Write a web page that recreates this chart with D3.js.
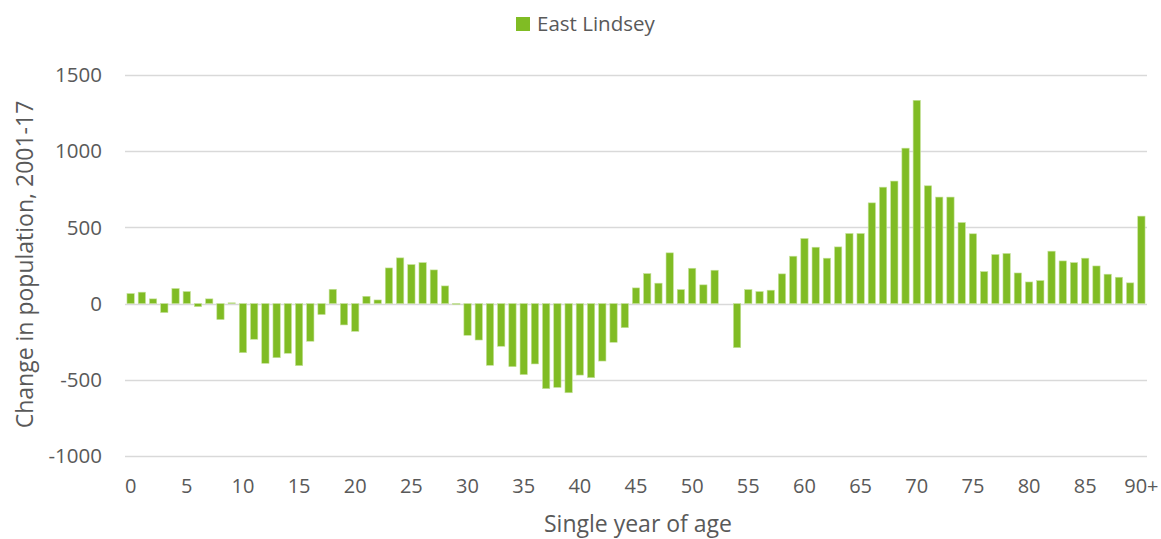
<!DOCTYPE html>
<html>
<head>
<meta charset="utf-8">
<script src="https://cdn.jsdelivr.net/npm/d3@7"></script>
<style>
  body { margin: 0; background: #fff; }
  text { font-family: "Open Sans", sans-serif; fill: #595959; }
</style>
</head>
<body>
<svg width="1161" height="539"></svg>
<script>
// ages 0..89 then 90+
var ages = d3.range(0, 90).map(String).concat(["90+"]);

var change = [
  66, 75, 31, -59, 99, 79, -20, 31, -105, 5,
  -322, -234, -392, -355, -326, -407, -247, -72, 94, -140,
  -182, 48, 24, 234, 300, 256, 269, 221, 116, -5,
  -208, -239, -405, -280, -414, -466, -396, -558, -550, -585,
  -469, -486, -377, -254, -158, 103, 197, 134, 333, 92,
  232, 123, 219, 0, -289, 92, 79, 88, 195, 311,
  427, 370, 298, 372, 460, 460, 661, 764, 804, 1020,
  1334, 773, 699, 699, 532, 458, 210, 322, 329, 201,
  142, 151, 344, 280, 269, 298, 247, 193, 173, 136,
  574
];

var yTicks = [-1000, -500, 0, 500, 1000, 1500];
var xTickLabels = ["0","5","10","15","20","25","30","35","40","45","50","55","60","65","70","75","80","85","90+"];
var seriesName = "East Lindsey";

var svg = d3.select("svg"),
    margin = {top: 75, right: 14, bottom: 83, left: 125},
    width = 1161 - margin.left - margin.right,
    height = 539 - margin.top - margin.bottom;

var green = "#80bc24";

var x = d3.scaleBand()
    .domain(ages)
    .range([0, width])
    .paddingInner(0.35)
    .paddingOuter(0.175);

var y = d3.scaleLinear()
    .domain([-1000, 1500])
    .range([height, 0]);

var g = svg.append("g")
    .attr("transform", "translate(" + margin.left + "," + margin.top + ")");

// gridlines
g.append("g")
  .selectAll("line")
  .data(yTicks)
  .enter()
  .append("line")
  .attr("x1", 0)
  .attr("x2", width)
  .attr("y1", function(d) { return Math.round(y(d)) + 0.5; })
  .attr("y2", function(d) { return Math.round(y(d)) + 0.5; })
  .style("stroke", "#d9d9d9")
  .style("stroke-width", 1.5);

// y labels
g.append("g")
  .selectAll("text")
  .data(yTicks)
  .enter()
  .append("text")
  .attr("x", -23)
  .attr("y", function(d) { return y(d); })
  .attr("dy", "0.35em")
  .attr("text-anchor", "end")
  .style("font-size", "20.5px")
  .text(function(d) { return d; });

// bars
g.append("g")
  .selectAll("rect")
  .data(change)
  .enter()
  .append("rect")
  .attr("x", function(d, i) { return x(ages[i]); })
  .attr("width", x.bandwidth())
  .attr("y", function(d) { return y(Math.max(0, d)); })
  .attr("height", function(d) { return Math.abs(y(d) - y(0)); })
  .style("fill", green)
  .style("stroke", "#c5e29a")
  .style("stroke-width", 0.6);

// x labels
g.append("g")
  .selectAll("text")
  .data(xTickLabels)
  .enter()
  .append("text")
  .attr("x", function(d) { return x(d) + x.bandwidth() / 2; })
  .attr("y", height + 37)
  .attr("text-anchor", "middle")
  .style("font-size", "20px")
  .text(function(d) { return d; });

// axis titles
svg.append("text")
  .attr("x", margin.left + width / 2 + 2)
  .attr("y", 532)
  .attr("text-anchor", "middle")
  .style("font-size", "23px")
  .text("Single year of age");

svg.append("text")
  .attr("transform", "translate(33," + (margin.top + height / 2 - 1) + ") rotate(-90)")
  .attr("text-anchor", "middle")
  .style("font-size", "23px")
  .text("Change in population, 2001-17");

// legend
var legend = svg.append("g").attr("transform", "translate(516,17)");
legend.append("rect")
  .attr("width", 14)
  .attr("height", 14)
  .style("fill", green);
legend.append("text")
  .attr("x", 21)
  .attr("y", 14)
  .style("font-size", "20.5px")
  .text(seriesName);
</script>
</body>
</html>
